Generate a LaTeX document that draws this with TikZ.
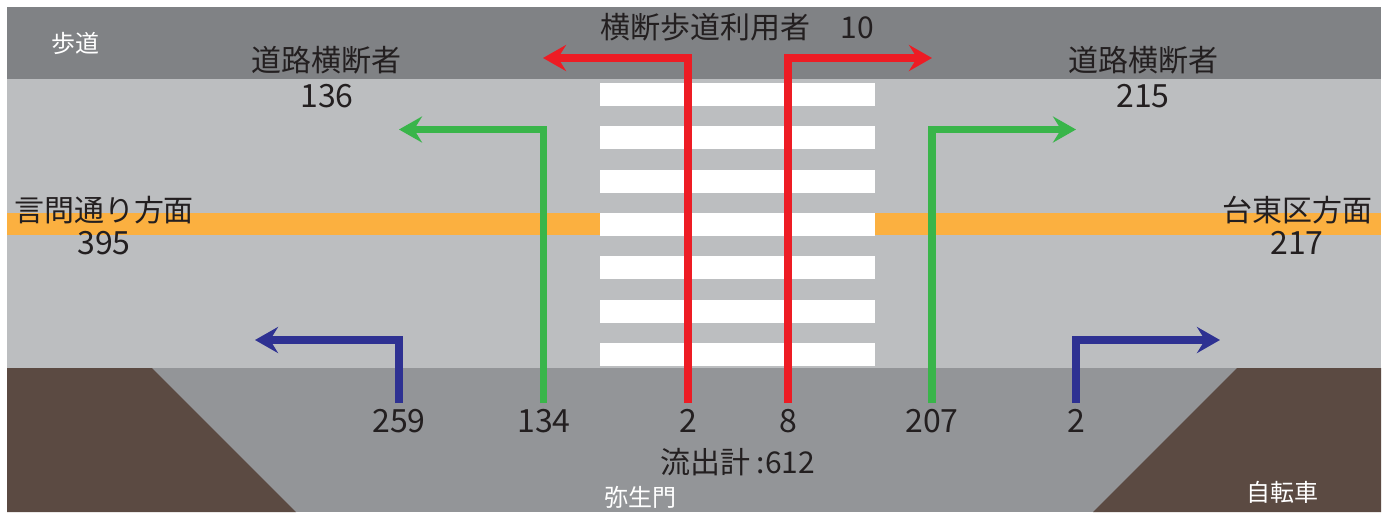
\documentclass[tikz,border=0pt]{standalone}
\usepackage{fontspec}
\setmainfont{Noto Sans CJK JP}
\usetikzlibrary{arrows.meta}
\definecolor{walkc}{HTML}{808285}
\definecolor{roadc}{HTML}{BCBEC0}
\definecolor{lowc}{HTML}{939598}
\definecolor{brownc}{HTML}{5B4A42}
\definecolor{orangec}{HTML}{FBB040}
\definecolor{redc}{HTML}{ED1C24}
\definecolor{greenc}{HTML}{39B54A}
\definecolor{bluec}{HTML}{2E3192}
\definecolor{textc}{HTML}{231F20}
\tikzset{
  flow/.style={line width=7.5pt, line cap=butt, line join=miter,
    -{Stealth[length=23pt,width=26pt,inset=8pt]}},
  lbl/.style={inner sep=0pt, text=textc, font=\fontsize{30}{32}\selectfont},
  numlbl/.style={inner sep=0pt, text=textc, font=\fontsize{32}{34}\selectfont},
  wlbl/.style={inner sep=0pt, text=white, font=\fontsize{24}{26}\selectfont},
}
\begin{document}
\begin{tikzpicture}[x=1pt,y=-1pt]
\useasboundingbox (0,0) rectangle (1387,512);
\fill[white] (0,0) rectangle (1387,512);
% ground
\fill[roadc] (7,79) rectangle (1381,368);
\fill[walkc] (7,7) rectangle (1381,79);
\fill[lowc] (7,368) rectangle (1381,512);
\fill[brownc] (7,368) -- (152,368) -- (296,512) -- (7,512) -- cycle;
\fill[brownc] (1381,368) -- (1237,368) -- (1093,512) -- (1381,512) -- cycle;
\fill[orangec] (7,213) rectangle (1381,235);
\foreach \i in {0,...,6} {
  \fill[white] (600,83+43.3*\i) rectangle (875,106+43.3*\i);
}
% flow coordinates
\coordinate (bLs) at (399,403); \coordinate (bLe) at (255,340);
\coordinate (gLs) at (543.5,403); \coordinate (gLe) at (399,129.5);
\coordinate (rLs) at (688,403); \coordinate (rLe) at (543,58);
\coordinate (rRs) at (788,403); \coordinate (rRe) at (932,58);
\coordinate (gRs) at (932,403); \coordinate (gRe) at (1076,129.5);
\coordinate (bRs) at (1076,403); \coordinate (bRe) at (1220,340);
\draw[flow, bluec] (bLs) |- (bLe);
\draw[flow, greenc] (gLs) |- (gLe);
\draw[flow, redc] (rLs) |- (rLe);
\draw[flow, redc] (rRs) |- (rRe);
\draw[flow, greenc] (gRs) |- (gRe);
\draw[flow, bluec] (bRs) |- (bRe);
% labels
\node[wlbl] (walk) at (75,43) {歩道};
\node[wlbl] (yayoi) at (640,497) {弥生門};
\node[wlbl] (bike) at (1282,492) {自転車};
\node[lbl] (title) at (737,27.5) {横断歩道利用者　10};
\node[lbl] (crossL) at (326,60) {道路横断者};
\node[numlbl] (crossLn) at (327,96) {136};
\node[lbl] (crossR) at (1143,60) {道路横断者};
\node[numlbl] (crossRn) at (1143,96) {215};
\node[lbl] (west) at (104,210) {言問通り方面};
\node[numlbl] (westn) at (104,243) {395};
\node[lbl] (east) at (1297,210) {台東区方面};
\node[numlbl] (eastn) at (1297,243) {217};
\node[numlbl] (n1) at (399,421) {259};
\node[numlbl] (n2) at (544,421) {134};
\node[numlbl] (n3) at (688,421) {2};
\node[numlbl] (n4) at (788,421) {8};
\node[numlbl] (n5) at (932,421) {207};
\node[numlbl] (n6) at (1076,421) {2};
\node[lbl] (total) at (737.5,462.5) {流出計 :612};
\end{tikzpicture}
\end{document}
